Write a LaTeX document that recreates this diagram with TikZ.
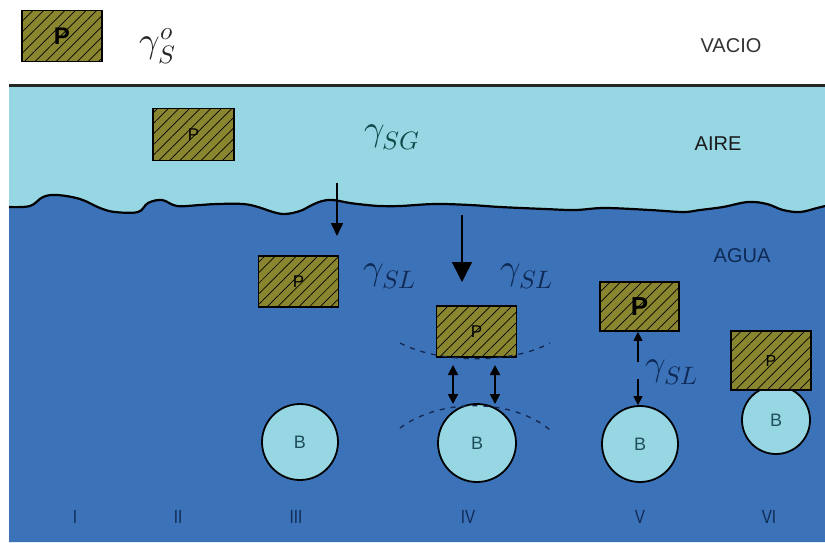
\documentclass[tikz,border=0pt]{standalone}
\usepackage{fontspec}
\usepackage{unicode-math}
\setsansfont{Liberation Sans}
\usetikzlibrary{patterns.meta,arrows.meta}
\definecolor{air}{HTML}{97D7E3}
\definecolor{water}{HTML}{3C72B8}
\definecolor{olivebox}{HTML}{8A8630}
\definecolor{navytxt}{HTML}{0E2A55}
\definecolor{tealtxt}{HTML}{0F4848}
\definecolor{btxt}{HTML}{1E4E5C}
\definecolor{dashc}{HTML}{15264F}
\tikzset{
  pbox/.style={draw=black, line width=1.8pt, fill=olivebox,
    postaction={pattern={Lines[angle=45,distance=7.5pt,line width=0.7pt]}, pattern color=black},
    minimum width=80pt, minimum height=51pt, inner sep=0pt,
    font=\sffamily\fontsize{17}{17}\selectfont},
  bcirc/.style={draw=black, line width=1.8pt, fill=air, circle, inner sep=0pt,
    text=btxt, font=\sffamily\fontsize{18}{18}\selectfont},
  medium/.style={font=\sffamily\fontsize{20}{20}\selectfont, inner sep=0pt},
  roman/.style={font=\sffamily\fontsize{19}{19}\selectfont, text=navytxt, inner sep=0pt, xscale=0.8},
  glab/.style={font=\fontsize{36}{36}\selectfont, inner sep=0pt},
  bigarrow/.style={draw=black, line width=1.6pt, -{Triangle[width=12pt,length=13pt]}},
  hugearrow/.style={draw=black, line width=1.6pt, -{Triangle[width=20pt,length=20pt]}},
  smallarrow/.style={draw=black, line width=1.6pt, {Triangle[width=10pt,length=10pt]}-{Triangle[width=10pt,length=10pt]}},
  halfarrow/.style={draw=black, line width=1.4pt, -{Triangle[width=9pt,length=9pt]}},
  dasharc/.style={draw=dashc, line width=1.3pt, dash pattern=on 5pt off 6pt},
}
\begin{document}
\begin{tikzpicture}[x=1pt,y=-1pt]
\useasboundingbox (0,0) rectangle (825,542);
\fill[white] (0,0) rectangle (825,542);
% air
\fill[air] (9,85) rectangle (825,542);
% water with wavy surface
\def\wave{(9,207) (30,206) (43,197) (57,195) (80,199) (100,208) (115,212) (138,212) (148,203) (162,200) (177,206) (200,205) (217,204) (243,204) (258,207) (273,212) (285,214) (300,211) (312,205) (322,201) (333,200) (350,203) (367,205) (380,206) (400,206) (435,204) (470,205) (500,207) (545,209) (575,210) (605,208) (650,210) (683,212) (700,210) (723,207) (748,202) (767,204) (783,210) (800,212) (817,208) (825,206)}
\fill[water] (9,542) -- (9,207) -- plot[smooth, tension=0.6] coordinates {\wave} -- (825,542) -- cycle;
\draw[black, line width=2.2pt] plot[smooth, tension=0.6] coordinates {\wave};
% vacuum boundary
\draw[line width=3pt, color=black!85] (9,85) -- (825,85);

% region labels
\node[medium, text=black!80] (vacio) at (731,46) {VACIO};
\node[medium, text=black!90] (aire) at (718,144) {AIRE};
\node[medium, text=navytxt] (agua) at (742,256) {AGUA};

% boxes
\node[pbox, font=\sffamily\bfseries\fontsize{24}{24}\selectfont] (p0) at (62,36) {P};
\node[pbox, minimum width=81pt, minimum height=52pt] (p1) at (193.5,134.5) {P};
\node[pbox] (p2) at (298.5,281.5) {P};
\node[pbox] (p3) at (476.5,331.5) {P};
% circles
\node[bcirc, minimum size=76pt] (b3) at (300,442) {B};
\node[bcirc, minimum size=78pt] (b4) at (477,443) {B};
\node[bcirc, minimum size=76pt] (b5) at (640,444) {B};
\node[bcirc, minimum size=68pt] (b6) at (776,420) {B};
\node[pbox, minimum width=79pt, minimum height=49pt, font=\sffamily\bfseries\fontsize{26}{26}\selectfont] (p4) at (639.5,306.5) {P};
\node[pbox, minimum height=59pt, font=\sffamily\fontsize{16}{16}\selectfont] (p5) at (771,360.5) {P};

% gamma labels
\node[glab, text=black!85] (g0) at (158,46) {$\gamma_{S}^{o}$};
\node[glab, text=tealtxt] (g1) at (392,137) {$\gamma_{SG}$};
\node[glab, text=navytxt] (g2) at (390,276) {$\gamma_{SL}$};
\node[glab, text=navytxt] (g3) at (527,276) {$\gamma_{SL}$};
\node[glab, text=navytxt] (g4) at (672,372) {$\gamma_{SL}$};

% arrows
\coordinate (a1s) at (337,183); \coordinate (a1e) at (337,236);
\draw[bigarrow] (a1s) -- (a1e);
\coordinate (a2s) at (462,215); \coordinate (a2e) at (462,282);
\draw[hugearrow] (a2s) -- (a2e);
\coordinate (d1s) at (453,365); \coordinate (d1e) at (453,404);
\coordinate (d2s) at (495,365); \coordinate (d2e) at (495,404);
\draw[smallarrow] (d1s) -- (d1e);
\draw[smallarrow] (d2s) -- (d2e);
\coordinate (v1) at (638,362); \coordinate (v2) at (638,379);
\draw[halfarrow] (v1) -- (p4.south -| v1);
\draw[halfarrow] (v2) -- (b5.north -| v2);

% dashed arcs
\coordinate (u1) at (400,343); \coordinate (u2) at (550,343);
\draw[dasharc] (u1) .. controls (440,364) and (512,364) .. (u2);
\coordinate (l1) at (400,428); \coordinate (l2) at (550,430);
\draw[dasharc] (l1) .. controls (440,398) and (512,398) .. (l2);

% roman numerals
\node[roman] (r1) at (75,517) {I};
\node[roman] (r2) at (178,517) {II};
\node[roman] (r3) at (296,517) {III};
\node[roman] (r4) at (468,517) {IV};
\node[roman] (r5) at (640,517) {V};
\node[roman] (r6) at (769,517) {VI};
\end{tikzpicture}
\end{document}
